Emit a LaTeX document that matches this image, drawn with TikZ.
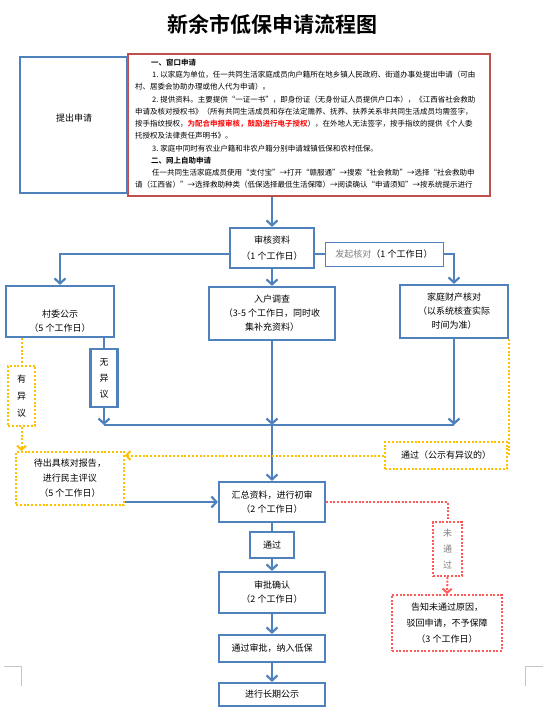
\documentclass[tikz,border=0pt]{standalone}
\usepackage{fontspec}
\setmainfont{Noto Sans CJK SC}[BoldFont={Noto Sans CJK SC Bold}]
\usetikzlibrary{arrows.meta}
\definecolor{bl}{HTML}{4F81BD}
\definecolor{rd}{HTML}{C0504D}
\definecolor{yl}{HTML}{FFC000}
\definecolor{rdot}{HTML}{FF5A5A}
\begin{document}
\begin{tikzpicture}[x=1pt,y=-1pt,
  box/.style={draw=bl, line width=2.2pt, fill=white, inner sep=0pt, align=center, font=\fontsize{9}{14}\selectfont},
  ybox/.style={draw=yl, line width=2pt, dash pattern=on 2pt off 1.8pt, fill=white, inner sep=0pt, align=center, font=\fontsize{9}{14}\selectfont},
  rbox/.style={draw=rdot, line width=2pt, dash pattern=on 2pt off 1.6pt, fill=white, inner sep=0pt, align=center, font=\fontsize{9}{16}\selectfont},
  txt/.style={inner sep=0pt, align=center, font=\fontsize{9}{14}\selectfont},
  rtxt/.style={anchor=west, inner sep=0pt, font=\fontsize{7.5}{8}\selectfont},
  bline/.style={draw=bl, line width=2.2pt},
  barr/.style={bline, -{Straight Barb[length=5pt,width=11pt]}},
  yline/.style={draw=yl, line width=2pt, dash pattern=on 2pt off 1.8pt},
  yarr/.style={yline, -{Straight Barb[length=4pt,width=9pt]}},
  rline/.style={draw=rdot, line width=2pt, dash pattern=on 2pt off 1.6pt},
  rarr/.style={rline, -{Straight Barb[length=4pt,width=9pt]}},
  corner/.style={draw=gray!45, line width=0.8pt}
]
\useasboundingbox (0,0) rectangle (543,707);

% title
\node[inner sep=0pt, font=\fontsize{21}{24}\selectfont\bfseries] (title) at (272,24) {新余市低保申请流程图};

% top boxes
\node[draw=rd, line width=2.5pt, fill=white, minimum width=362pt, minimum height=142pt, inner sep=0pt] (rb) at (309,125) {};
\node[box, minimum width=107pt, minimum height=136pt] (tc) at (73.5,125) {};
\node[txt] (tct) at (74,118) {提出申请};

% red box text
\node[rtxt] (l1) at (151,63) {\textbf{一、窗口申请}};
\node[rtxt] (l2) at (152,75) {1.\hspace{2pt}以家庭为单位，任一共同生活家庭成员向户籍所在地乡镇人民政府、街道办事处提出申请（可由};
\node[rtxt] (l3) at (135,87) {村、居委会协助办理或他人代为申请）。};
\node[rtxt] (l4) at (152,100) {2.\hspace{2pt}提供资料。主要提供“一证一书”，即身份证（无身份证人员提供户口本），《江西省社会救助};
\node[rtxt] (l5) at (135,112) {申请及核对授权书》（所有共同生活成员和存在法定赡养、抚养、扶养关系非共同生活成员均需签字，};
\node[rtxt] (l6) at (135,124) {按手指纹授权，\textcolor{red}{\textbf{为配合申报审核，鼓励进行电子授权}}），在外地人无法签字，按手指纹的提供《个人委};
\node[rtxt] (l7) at (135,136) {托授权及法律责任声明书》。};
\node[rtxt] (l8) at (152,149) {3.\hspace{2pt}家庭中同时有农业户籍和非农户籍分别申请城镇低保和农村低保。};
\node[rtxt] (l9) at (151,161) {\textbf{二、网上自助申请}};
\node[rtxt] (l10) at (152,173) {任一共同生活家庭成员使用“支付宝”→打开“赣服通”→搜索“社会救助”→选择“社会救助申};
\node[rtxt] (l11) at (135,185) {请（江西省）”→选择救助种类（低保选择最低生活保障）→阅读确认“申请须知”→按系统提示进行};

% flow boxes
\node[box, minimum width=84pt, minimum height=40pt, font=\fontsize{9}{16}\selectfont] (sh) at (272,248) {审核资料\\（1 个工作日）};
\node[draw=bl, line width=1pt, fill=white, minimum width=118pt, minimum height=24pt, inner sep=0pt, font=\fontsize{9}{12}\selectfont] (fq) at (384,254) {\textcolor{gray}{发起核对}（1 个工作日）};
\node[box, minimum width=108pt, minimum height=51pt] (cw) at (60,311.5) {};
\node[txt] (cwt) at (60,321) {村委公示\\（5 个工作日）};
\node[box, minimum width=126pt, minimum height=53pt] (rh) at (272,313.5) {入户调查\\（3-5 个工作日，同时收\\集补充资料）};
\node[box, minimum width=108pt, minimum height=53pt] (fc) at (454,311.5) {家庭财产核对\\（以系统核查实际\\时间为准）};
\node[ybox, minimum width=27pt, minimum height=60pt, font=\fontsize{9}{17}\selectfont] (yy) at (21.5,396) {有\\异\\议};
\node[box, minimum width=27pt, minimum height=58pt, font=\fontsize{9}{16}\selectfont] (wy) at (104,378) {无\\异\\议};
\node[ybox, minimum width=122pt, minimum height=27pt] (tg) at (446,455.5) {通过（公示有异议的）};
\node[ybox, minimum width=108pt, minimum height=53pt, font=\fontsize{9}{15}\selectfont] (dc) at (70,478.5) {待出具核对报告，\\进行民主评议\\（5 个工作日）};
\node[box, minimum width=106pt, minimum height=40pt] (hz) at (272,502) {汇总资料，进行初审\\（2 个工作日）};
\node[box, minimum width=44pt, minimum height=26pt] (tgo) at (272,545) {通过};
\node[rbox, minimum width=29pt, minimum height=54pt, text=gray] (wt) at (447.5,549) {未\\通\\过};
\node[box, minimum width=106pt, minimum height=41pt] (sp) at (272,592.5) {审批确认\\（2 个工作日）};
\node[rbox, minimum width=110pt, minimum height=56pt] (gz) at (447,623) {告知未通过原因，\\驳回申请，不予保障\\（3 个工作日）};
\node[box, minimum width=106pt, minimum height=27pt] (tgs) at (272,648.5) {通过审批，纳入低保};
\node[box, minimum width=106pt, minimum height=23pt] (cq) at (272,694.5) {进行长期公示};

% connectors
\draw[barr] (sh.north |- rb.south) -- (sh.north);
\draw[barr] (sh.west |- fq.west) -| (cw.north);
\draw[bline] (sh.east |- fq.west) -- (fq.west);
\draw[barr] (fq.east) -| (fc.north);
\draw[barr] (sh.south) -- (rh.north);
\draw[bline] (wy.north |- cw.south) -- (wy.north);
\coordinate (busL) at (104,425);
\coordinate (busM) at (272,425);
\coordinate (busR) at (454,425);
\draw[bline] (busL) -- (busR);
\draw[barr] (wy.south) -- (busL);
\draw[barr] (rh.south) -- (busM);
\draw[barr] (fc.south) -- (busR);
\draw[barr] (busM) -- (hz.north);
\draw[yline] (yy.north |- cw.south) -- (yy.north);
\draw[yarr] (yy.south) -- (yy.south |- dc.north);
\draw[yline] (fc.south east) -- (fc.south east |- tg.east);
\draw[yarr] (tg.west) -- (tg.west -| dc.east);
\draw[barr] (dc.east |- hz.west) -- (hz.west);
\draw[bline] (hz.south) -- (tgo.north);
\draw[barr] (tgo.south) -- (sp.north);
\draw[barr] (sp.south) -- (tgs.north);
\draw[barr] (tgs.south) -- (cq.north);
\draw[rline] (hz.east) -| (wt.north);
\draw[rarr] (wt.south) -- (gz.north);

% page corner marks
\draw[corner] (4,666) -- (21,666) -- (21,686);
\draw[corner] (543,666) -- (525,666) -- (525,686);
\end{tikzpicture}
\end{document}
